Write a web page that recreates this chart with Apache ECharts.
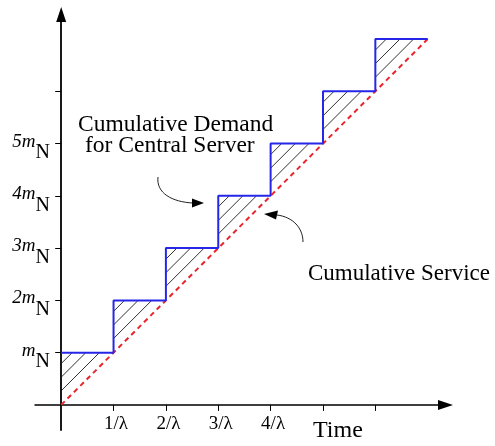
<!DOCTYPE html>
<html>
<head>
<meta charset="utf-8">
<script src="https://cdn.jsdelivr.net/npm/echarts@6/dist/echarts.min.js"></script>
<style>
  html, body { margin: 0; padding: 0; background: #fff; }
  #chart { width: 495px; height: 446px; }
</style>
</head>
<body>
<div id="chart"></div>
<script>
// Arrival instants (multiples of 1/λ) and the cumulative demand reached there (multiples of m_N)
const demandTimes = [0, 1, 2, 3, 4, 5, 6, 7];
const demandLevels = [1, 2, 3, 4, 5, 6, 7, 7];

// Cumulative service grows linearly
const serviceTimes = [0, 7];
const serviceLevels = [0, 7];

// Intervals whose backlog (demand above service) is shaded
const backlogIntervals = [0, 1, 2, 3, 4, 5, 6];

// Axis ticks and labels
const timeTicks = [1, 2, 3, 4, 5, 6];
const timeLabelValues = [1, 2, 3, 4];
const timeLabels = ['1/λ', '2/λ', '3/λ', '4/λ'];
const levelTicks = [1, 2, 3, 4, 5, 6];
const levelLabelValues = [1, 2, 3, 4, 5];
const levelCoefficients = ['', '2', '3', '4', '5'];

// Relative positions of the hatch strokes inside each backlog triangle
const hatchOffsets = [0.27, 0.53, 0.79];

const serif = '"Liberation Serif", "Times New Roman", serif';
const serviceRate = (serviceLevels[1] - serviceLevels[0]) / (serviceTimes[1] - serviceTimes[0]);

const backlog = backlogIntervals.map(i => [demandTimes[i], demandTimes[i + 1], demandLevels[i]]);

const chart = echarts.init(document.getElementById('chart'), null, { renderer: 'canvas' });

chart.setOption({
  animation: false,
  backgroundColor: '#fff',
  grid: { left: 35, right: 49.5, top: 14.5, bottom: 16, containLabel: false, outerBoundsMode: 'none' },
  xAxis: {
    type: 'value',
    min: -0.5,
    max: 7.34,
    axisLine: {
      onZero: true,
      symbol: ['none', 'triangle'],
      symbolSize: [10, 15],
      lineStyle: { color: '#000', width: 1.5 }
    },
    axisTick: { customValues: timeTicks, length: 6, lineStyle: { color: '#000', width: 1 } },
    axisLabel: {
      customValues: timeLabelValues,
      formatter: v => timeLabels[timeLabelValues.indexOf(v)] || '',
      // labels sit at the grid edge, so pull them back up to the zero line
      margin: -15,
      color: '#000',
      fontFamily: serif,
      fontSize: 19,
      padding: [0, 0, 0, 5]
    },
    splitLine: { show: false }
  },
  yAxis: {
    type: 'value',
    min: -0.48,
    max: 7.47,
    axisLine: {
      onZero: true,
      symbol: ['none', 'triangle'],
      symbolSize: [10, 15],
      lineStyle: { color: '#000', width: 1.8 }
    },
    axisTick: { customValues: levelTicks, length: 6, lineStyle: { color: '#000', width: 1 } },
    axisLabel: {
      customValues: levelLabelValues,
      formatter: v => '{a|' + levelCoefficients[levelLabelValues.indexOf(v)] + 'm}{n|N}',
      margin: -15,
      color: '#000',
      rich: {
        a: { fontFamily: serif, fontStyle: 'italic', fontSize: 19, color: '#000', padding: [0, 0, 4, 0] },
        n: { fontFamily: serif, fontSize: 20, color: '#000', padding: [19, 0, 0, 0] }
      }
    },
    splitLine: { show: false }
  },
  series: [
    {
      type: 'custom',
      z: 1,
      silent: true,
      data: backlog,
      encode: { x: [0, 1], y: 2 },
      renderItem: (params, api) => {
        const t0 = api.value(0);
        const t1 = api.value(1);
        const level = api.value(2);
        const base = serviceRate * t0;
        const children = hatchOffsets.map(c => {
          const yStart = base + c * (level - base);
          const tEnd = t0 + (level - yStart) / serviceRate;
          const p = api.coord([t0, yStart]);
          const q = api.coord([Math.min(tEnd, t1), level]);
          return {
            type: 'line',
            shape: { x1: p[0], y1: p[1], x2: q[0], y2: q[1] },
            style: { stroke: '#1a1a1a', lineWidth: 0.9 }
          };
        });
        return { type: 'group', children };
      }
    },
    {
      name: 'Cumulative Service',
      type: 'line',
      z: 2,
      data: serviceTimes.map((t, i) => [t, serviceLevels[i]]),
      showSymbol: false,
      lineStyle: { color: '#e8242c', width: 2, type: [5, 4] }
    },
    {
      name: 'Cumulative Demand',
      type: 'line',
      z: 3,
      step: 'end',
      data: demandTimes.map((t, i) => [t, demandLevels[i]]),
      showSymbol: false,
      lineStyle: { color: '#2626e8', width: 2 }
    }
  ],
  graphic: [
    { type: 'text', x: 78, y: 125, style: { text: 'Cumulative Demand', font: '23.5px ' + serif, fill: '#000', verticalAlign: 'middle' } },
    { type: 'text', x: 85, y: 146, style: { text: 'for Central Server', font: '23.5px ' + serif, fill: '#000', verticalAlign: 'middle' } },
    { type: 'text', x: 308, y: 274, style: { text: 'Cumulative Service', font: '23px ' + serif, fill: '#000', verticalAlign: 'middle' } },
    { type: 'text', x: 313, y: 431, style: { text: 'Time', font: '24px ' + serif, fill: '#000', verticalAlign: 'middle' } },
    {
      type: 'bezierCurve',
      shape: { x1: 158, y1: 177, cpx1: 156, cpy1: 193, cpx2: 172, cpy2: 202, x2: 193, y2: 203 },
      style: { stroke: '#222', lineWidth: 1, fill: null }
    },
    { type: 'polygon', shape: { points: [[204, 203], [192, 198.5], [192, 207.5]] }, style: { fill: '#000' } },
    {
      type: 'bezierCurve',
      shape: { x1: 277, y1: 215, cpx1: 293, cpy1: 217, cpx2: 303, cpy2: 228, x2: 303, y2: 242 },
      style: { stroke: '#222', lineWidth: 1, fill: null }
    },
    { type: 'polygon', shape: { points: [[264, 214], [278, 210.5], [276, 219.5]] }, style: { fill: '#000' } }
  ]
});
</script>
</body>
</html>
